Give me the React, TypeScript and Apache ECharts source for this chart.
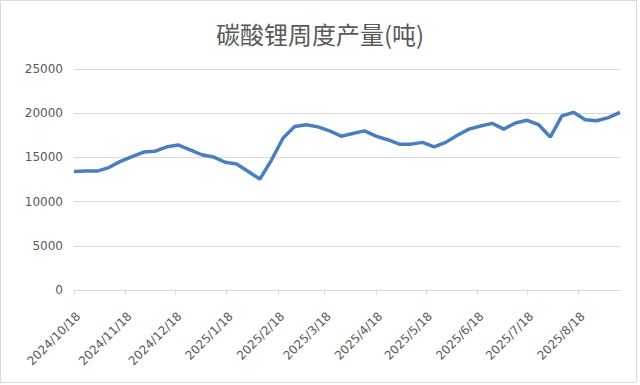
import React, { useEffect, useRef } from "react";
import * as echarts from "echarts";

const titleText = "碳酸锂周度产量(吨)";

const weekDates = [
  "2024-10-18", "2024-10-25", "2024-11-01", "2024-11-08", "2024-11-15", "2024-11-22",
  "2024-11-29", "2024-12-06", "2024-12-13", "2024-12-20", "2024-12-27", "2025-01-03",
  "2025-01-10", "2025-01-17", "2025-01-24", "2025-01-31", "2025-02-07", "2025-02-14",
  "2025-02-21", "2025-02-28", "2025-03-07", "2025-03-14", "2025-03-21", "2025-03-28",
  "2025-04-04", "2025-04-11", "2025-04-18", "2025-04-25", "2025-05-02", "2025-05-09",
  "2025-05-16", "2025-05-23", "2025-05-30", "2025-06-06", "2025-06-13", "2025-06-20",
  "2025-06-27", "2025-07-04", "2025-07-11", "2025-07-18", "2025-07-25", "2025-08-01",
  "2025-08-08", "2025-08-15", "2025-08-22", "2025-08-29", "2025-09-05", "2025-09-12",
];

const output = [
  13400, 13450, 13450, 13850, 14550, 15100,
  15600, 15700, 16200, 16400, 15850, 15300,
  15050, 14450, 14250, 13400, 12550, 14700,
  17200, 18500, 18700, 18450, 18000, 17400,
  17700, 18000, 17400, 17000, 16500, 16500,
  16700, 16200, 16700, 17500, 18200, 18550,
  18850, 18200, 18900, 19200, 18700, 17300,
  19700, 20100, 19250, 19150, 19500, 20100,
];

const tickLabels = [
  "2024/10/18", "2024/11/18", "2024/12/18", "2025/1/18", "2025/2/18", "2025/3/18",
  "2025/4/18", "2025/5/18", "2025/6/18", "2025/7/18", "2025/8/18",
];

const yMin = 0;
const yMax = 25000;
const yInterval = 5000;

function parseSlash(s: string): number {
  const [y, m, d] = s.split("/").map(Number);
  return Date.UTC(y, m - 1, d);
}
function parseDash(s: string): number {
  const [y, m, d] = s.split("-").map(Number);
  return Date.UTC(y, m - 1, d);
}

export default function App() {
  const ref = useRef<HTMLDivElement>(null);
  useEffect(() => {
    if (!ref.current) return;
    const chart = echarts.init(ref.current, undefined, { renderer: "svg" });
    const tickValues = tickLabels.map(parseSlash);
    const data = weekDates.map((d, i) => [parseDash(d), output[i]]);
    const textColor = "#595959";
    const gridColor = "#d9d9d9";
    chart.setOption({
      animation: false,
      backgroundColor: "#ffffff",
      title: {
        text: titleText,
        left: "center",
        top: 16,
        textStyle: {
          fontFamily: "Noto Sans CJK SC",
          fontSize: 24,
          fontWeight: "normal",
          color: textColor,
        },
      },
      graphic: [
        {
          type: "rect",
          shape: { x: 0.5, y: 0.5, width: 636, height: 382 },
          style: { fill: "none", stroke: gridColor, lineWidth: 1 },
          silent: true,
        },
      ],
      grid: { left: 74, right: 20, top: 69, bottom: 95, containLabel: false },
      xAxis: {
        type: "value",
        min: parseDash(weekDates[0]),
        max: parseDash(weekDates[weekDates.length - 1]),
        splitLine: { show: false },
        axisLine: { show: true, onZero: false, lineStyle: { color: gridColor, width: 1 } },
        axisTick: {
          show: true,
          inside: false,
          length: 5,
          customValues: tickValues,
          lineStyle: { color: gridColor },
        },
        axisLabel: {
          customValues: tickValues,
          rotate: 45,
          align: "right",
          verticalAlign: "top",
          margin: 20,
          color: textColor,
          fontFamily: "DejaVu Sans",
          fontSize: 12,
          formatter: (v: number) => {
            const d = new Date(v);
            return `${d.getUTCFullYear()}/${d.getUTCMonth() + 1}/${d.getUTCDate()}`;
          },
        },
      },
      yAxis: {
        type: "value",
        min: yMin,
        max: yMax,
        interval: yInterval,
        axisLine: { show: false },
        axisTick: { show: false },
        splitLine: { show: true, lineStyle: { color: gridColor, width: 1 } },
        axisLabel: {
          margin: 11,
          color: textColor,
          fontFamily: "DejaVu Sans",
          fontSize: 12,
          formatter: (v: number) => String(v),
        },
      },
      series: [
        {
          type: "line",
          data,
          showSymbol: false,
          symbol: "none",
          lineStyle: { color: "#4a7ebf", width: 3.5 },
          itemStyle: { color: "#4a7ebf" },
        },
      ],
    });
    return () => chart.dispose();
  }, []);
  return (
    <div
      ref={ref}
      style={{ position: "fixed", left: 0, top: 0, width: 640, height: 385 }}
    />
  );
}
